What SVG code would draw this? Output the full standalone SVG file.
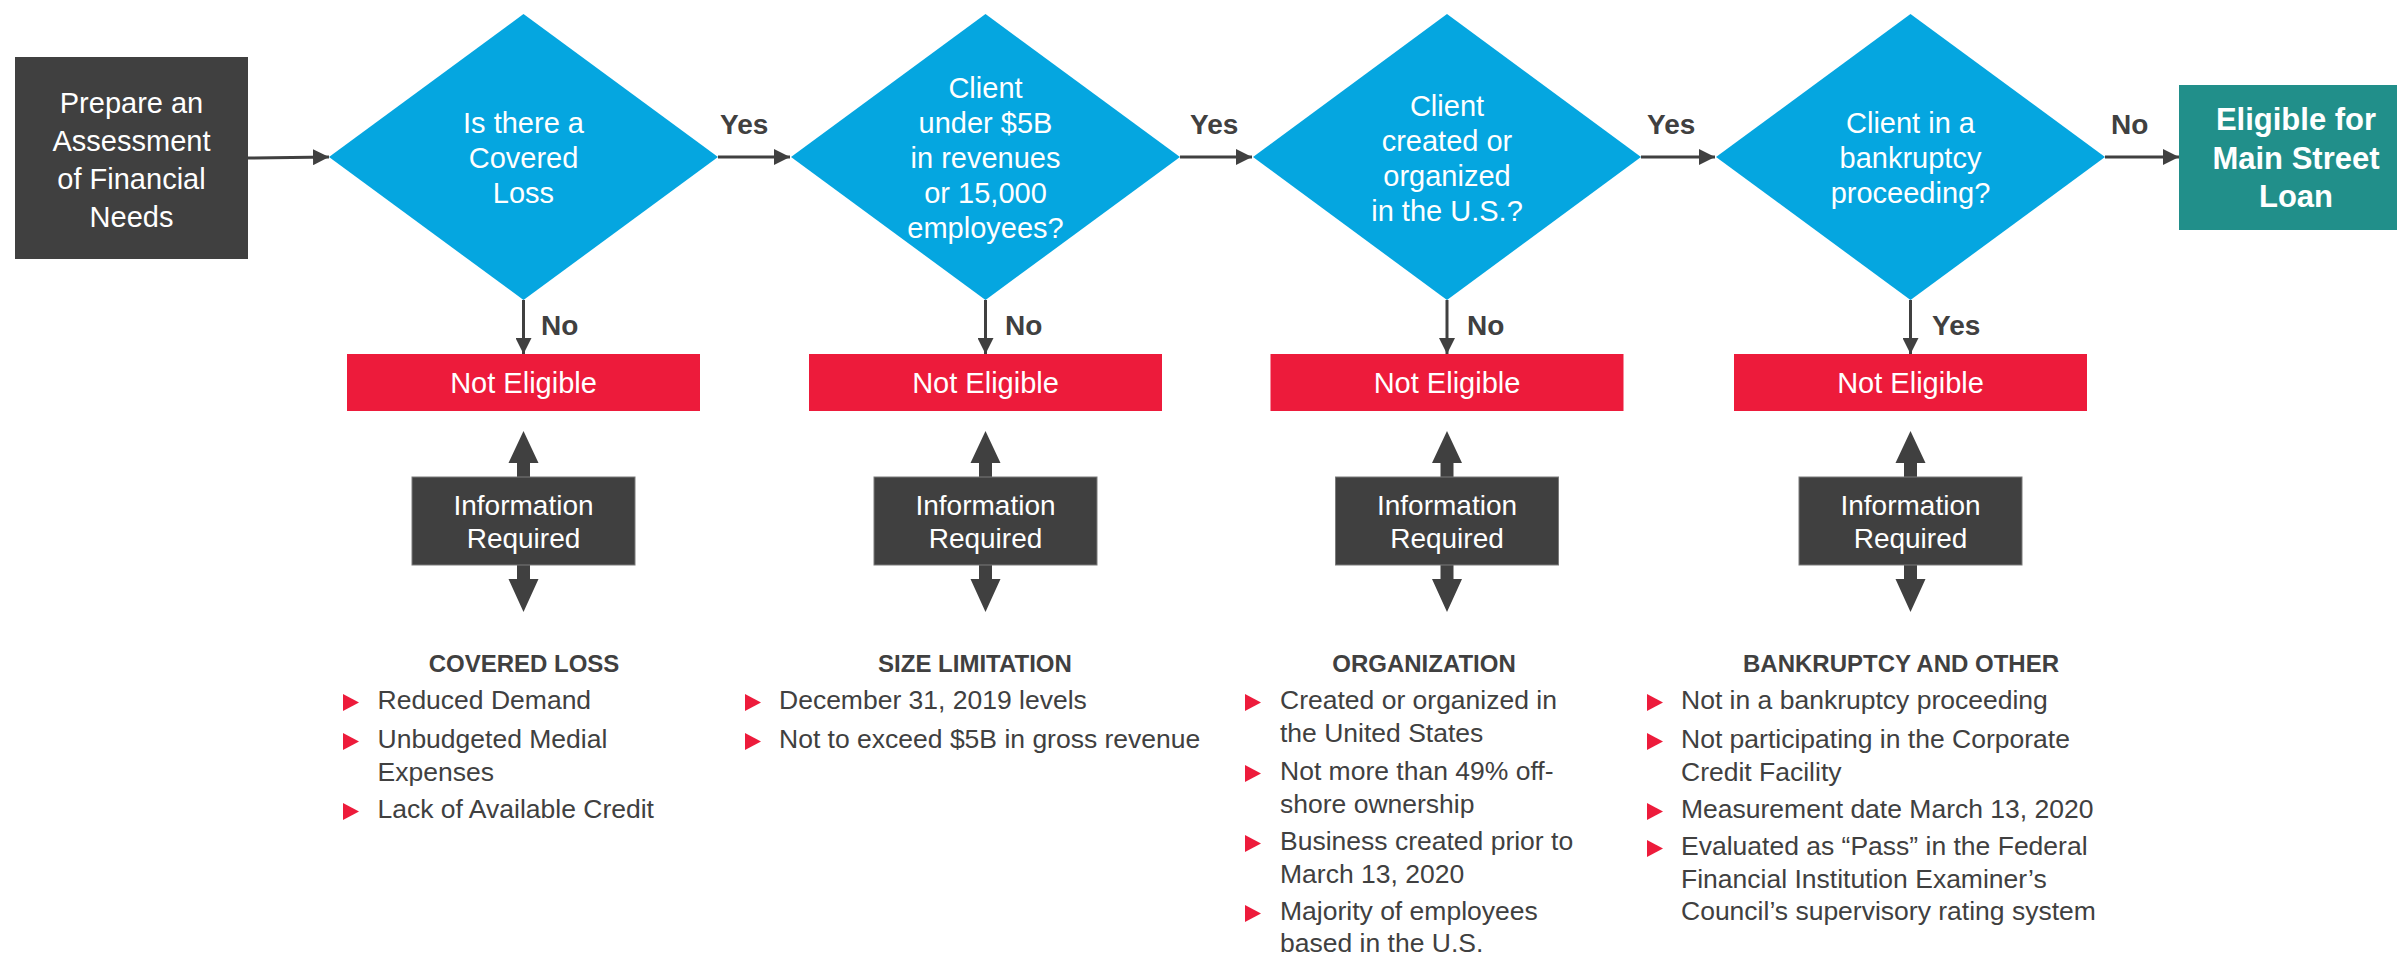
<svg xmlns="http://www.w3.org/2000/svg" width="2397" height="955" viewBox="0 0 2397 955">
  <style>
    text { font-family: "Liberation Sans", Arial, sans-serif; }
    .dark { fill: #404040; }
    .diamond { fill: #05A6E0; }
    .red { fill: #ED1B3B; }
    .teal { fill: #218F8A; }
    .info { fill: #404040; stroke: #7a7a7a; stroke-width: 1; }
    .wt { fill: #ffffff; font-size: 29px; text-anchor: middle; }
    .wtb { fill: #ffffff; font-size: 31px; font-weight: bold; text-anchor: middle; }
    .it { fill: #ffffff; font-size: 28px; text-anchor: middle; }
    .lbl { fill: #404040; font-size: 28px; font-weight: bold; }
    .hd { fill: #404040; font-size: 24px; font-weight: bold; text-anchor: middle; }
    .bt { fill: #404040; font-size: 26.5px; }
    .bul { fill: #ED1B3B; }
    .line { stroke: #404040; stroke-width: 3; fill: none; marker-end: url(#ah); }
    .dbl { fill: #404040; }
  </style>
  <defs>
    <marker id="ah" markerUnits="userSpaceOnUse" markerWidth="16" markerHeight="16" refX="16" refY="8" orient="auto">
      <path d="M0,0 L16,8 L0,16 Z" fill="#404040"/>
    </marker>
    <!-- two-headed vertical arrow, centred on x=0 -->
    <path id="dblArrow" d="M0,431 L15,463 L6.5,463 L6.5,579 L15,579 L0,612 L-15,579 L-6.5,579 L-6.5,463 L-15,463 Z"/>
    <!-- bullet marker, tip at (16,0) -->
    <path id="tri" d="M0,-8.5 L16,0 L0,8.5 Z"/>
  </defs>

  <rect width="2397" height="955" fill="#ffffff"/>

  <!-- connectors -->
  <g id="connectors">
    <line class="line" x1="248" y1="158" x2="329" y2="157"/>
    <line class="line" x1="718" y1="157" x2="790" y2="157"/>
    <line class="line" x1="1180" y1="157" x2="1252" y2="157"/>
    <line class="line" x1="1641" y1="157" x2="1715" y2="157"/>
    <line class="line" x1="2105" y1="157" x2="2179" y2="157"/>

    <line class="line" x1="523.5" y1="300" x2="523.5" y2="354"/>
    <line class="line" x1="985.5" y1="300" x2="985.5" y2="354"/>
    <line class="line" x1="1447" y1="300" x2="1447" y2="354"/>
    <line class="line" x1="1910.5" y1="300" x2="1910.5" y2="354"/>

    <use href="#dblArrow" class="dbl" transform="translate(523.5,0)"/>
    <use href="#dblArrow" class="dbl" transform="translate(985.5,0)"/>
    <use href="#dblArrow" class="dbl" transform="translate(1447,0)"/>
    <use href="#dblArrow" class="dbl" transform="translate(1910.5,0)"/>

    <text class="lbl" x="720" y="134">Yes</text>
    <text class="lbl" x="1190" y="134">Yes</text>
    <text class="lbl" x="1647" y="134">Yes</text>
    <text class="lbl" x="2111" y="134">No</text>

    <text class="lbl" x="541" y="335">No</text>
    <text class="lbl" x="1005" y="335">No</text>
    <text class="lbl" x="1467" y="335">No</text>
    <text class="lbl" x="1932" y="335">Yes</text>
  </g>

  <!-- start -->
  <g id="start">
    <rect class="dark" x="15" y="57" width="233" height="202"/>
    <text class="wt" x="131.5" y="113">Prepare an</text>
    <text class="wt" x="131.5" y="151">Assessment</text>
    <text class="wt" x="131.5" y="189">of Financial</text>
    <text class="wt" x="131.5" y="227">Needs</text>
  </g>

  <!-- decisions -->
  <g id="q-covered-loss">
    <polygon class="diamond" points="523.5,14 718,157 523.5,300 329,157"/>
    <text class="wt" x="523.5" y="133">Is there a</text>
    <text class="wt" x="523.5" y="168">Covered</text>
    <text class="wt" x="523.5" y="203">Loss</text>
  </g>
  <g id="q-size">
    <polygon class="diamond" points="985.5,14 1180,157 985.5,300 791,157"/>
    <text class="wt" x="985.5" y="98">Client</text>
    <text class="wt" x="985.5" y="133">under $5B</text>
    <text class="wt" x="985.5" y="168">in revenues</text>
    <text class="wt" x="985.5" y="203">or 15,000</text>
    <text class="wt" x="985.5" y="238">employees?</text>
  </g>
  <g id="q-organization">
    <polygon class="diamond" points="1447,14 1641,157 1447,300 1253,157"/>
    <text class="wt" x="1447" y="115.5">Client</text>
    <text class="wt" x="1447" y="150.5">created or</text>
    <text class="wt" x="1447" y="185.5">organized</text>
    <text class="wt" x="1447" y="220.5">in the U.S.?</text>
  </g>
  <g id="q-bankruptcy">
    <polygon class="diamond" points="1910.5,14 2105,157 1910.5,300 1716,157"/>
    <text class="wt" x="1910.5" y="133">Client in a</text>
    <text class="wt" x="1910.5" y="168">bankruptcy</text>
    <text class="wt" x="1910.5" y="203">proceeding?</text>
  </g>

  <!-- outcome -->
  <g id="eligible">
    <rect class="teal" x="2179" y="85" width="240" height="145"/>
    <text class="wtb" x="2296" y="130">Eligible for</text>
    <text class="wtb" x="2296" y="168.5">Main Street</text>
    <text class="wtb" x="2296" y="207">Loan</text>
  </g>

  <!-- not eligible boxes -->
  <g id="not-eligible-1">
    <rect class="red" x="347" y="354" width="353" height="57"/>
    <text class="wt" x="523.5" y="393">Not Eligible</text>
  </g>
  <g id="not-eligible-2">
    <rect class="red" x="809" y="354" width="353" height="57"/>
    <text class="wt" x="985.5" y="393">Not Eligible</text>
  </g>
  <g id="not-eligible-3">
    <rect class="red" x="1270.5" y="354" width="353" height="57"/>
    <text class="wt" x="1447" y="393">Not Eligible</text>
  </g>
  <g id="not-eligible-4">
    <rect class="red" x="1734" y="354" width="353" height="57"/>
    <text class="wt" x="1910.5" y="393">Not Eligible</text>
  </g>

  <!-- information required boxes -->
  <g id="info-1">
    <rect class="info" x="412" y="477" width="223" height="88"/>
    <text class="it" x="523.5" y="515">Information</text>
    <text class="it" x="523.5" y="548">Required</text>
  </g>
  <g id="info-2">
    <rect class="info" x="874" y="477" width="223" height="88"/>
    <text class="it" x="985.5" y="515">Information</text>
    <text class="it" x="985.5" y="548">Required</text>
  </g>
  <g id="info-3">
    <rect class="info" x="1335.5" y="477" width="223" height="88"/>
    <text class="it" x="1447" y="515">Information</text>
    <text class="it" x="1447" y="548">Required</text>
  </g>
  <g id="info-4">
    <rect class="info" x="1799" y="477" width="223" height="88"/>
    <text class="it" x="1910.5" y="515">Information</text>
    <text class="it" x="1910.5" y="548">Required</text>
  </g>

  <!-- requirement lists -->
  <g id="list-covered-loss">
    <text class="hd" x="524" y="672">COVERED LOSS</text>
    <use href="#tri" class="bul" x="343" y="702.5"/>
    <text class="bt" x="377.5" y="709">Reduced Demand</text>
    <use href="#tri" class="bul" x="343" y="741.5"/>
    <text class="bt" x="377.5" y="748">Unbudgeted Medial</text>
    <text class="bt" x="377.5" y="781">Expenses</text>
    <use href="#tri" class="bul" x="343" y="811.5"/>
    <text class="bt" x="377.5" y="818">Lack of Available Credit</text>
  </g>
  <g id="list-size">
    <text class="hd" x="975" y="672">SIZE LIMITATION</text>
    <use href="#tri" class="bul" x="745" y="702.5"/>
    <text class="bt" x="779" y="709">December 31, 2019 levels</text>
    <use href="#tri" class="bul" x="745" y="741.5"/>
    <text class="bt" x="779" y="748">Not to exceed $5B in gross revenue</text>
  </g>
  <g id="list-organization">
    <text class="hd" x="1424" y="672">ORGANIZATION</text>
    <use href="#tri" class="bul" x="1245" y="702.5"/>
    <text class="bt" x="1280" y="709">Created or organized in</text>
    <text class="bt" x="1280" y="742">the United States</text>
    <use href="#tri" class="bul" x="1245" y="773.5"/>
    <text class="bt" x="1280" y="780">Not more than 49% off-</text>
    <text class="bt" x="1280" y="813">shore ownership</text>
    <use href="#tri" class="bul" x="1245" y="843.5"/>
    <text class="bt" x="1280" y="850">Business created prior to</text>
    <text class="bt" x="1280" y="883">March 13, 2020</text>
    <use href="#tri" class="bul" x="1245" y="913.5"/>
    <text class="bt" x="1280" y="920">Majority of employees</text>
    <text class="bt" x="1280" y="952">based in the U.S.</text>
  </g>
  <g id="list-bankruptcy">
    <text class="hd" x="1901" y="672">BANKRUPTCY AND OTHER</text>
    <use href="#tri" class="bul" x="1647" y="702.5"/>
    <text class="bt" x="1681" y="709">Not in a bankruptcy proceeding</text>
    <use href="#tri" class="bul" x="1647" y="741.5"/>
    <text class="bt" x="1681" y="748">Not participating in the Corporate</text>
    <text class="bt" x="1681" y="781">Credit Facility</text>
    <use href="#tri" class="bul" x="1647" y="811.5"/>
    <text class="bt" x="1681" y="818">Measurement date March 13, 2020</text>
    <use href="#tri" class="bul" x="1647" y="848.5"/>
    <text class="bt" x="1681" y="855">Evaluated as “Pass” in the Federal</text>
    <text class="bt" x="1681" y="888">Financial Institution Examiner’s</text>
    <text class="bt" x="1681" y="920">Council’s supervisory rating system</text>
  </g>
</svg>
